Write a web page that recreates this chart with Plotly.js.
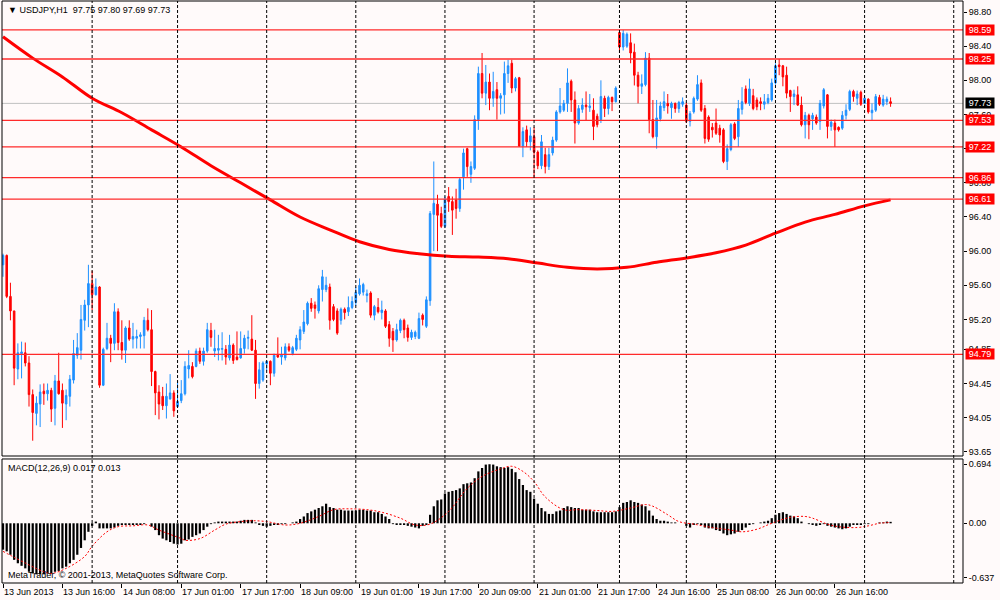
<!DOCTYPE html>
<html><head><meta charset="utf-8">
<script src="https://cdn.plot.ly/plotly-3.0.1.min.js"></script>
<style>html,body{margin:0;padding:0;background:#fffafa}#chart{width:1000px;height:600px}</style>
</head><body><div id="chart"></div>
<script>
// ---- USDJPY H1 candles (13 Jun 2013 00:00 -> 27 Jun 2013) ----
const openP = [
95.84,95.95,95.47,95.30,94.62,94.80,94.81,94.69,94.32,94.10,
94.21,94.36,94.33,94.37,94.16,94.48,94.37,94.21,94.30,94.49,
94.78,94.84,95.19,95.37,95.62,95.49,95.58,94.43,94.86,94.98,
94.92,95.29,94.93,94.84,95.10,94.97,94.98,95.00,95.01,95.19,
95.08,94.59,94.35,94.30,94.19,94.27,94.34,94.18,94.25,94.33,
94.62,94.65,94.65,94.83,94.71,94.83,95.07,94.83,94.84,94.85,
94.85,94.75,94.90,94.76,94.75,94.86,94.98,94.97,94.84,94.45,
94.49,94.68,94.71,94.57,94.79,94.76,94.75,94.88,94.80,94.85,
94.96,95.06,95.15,95.39,95.37,95.30,95.55,95.55,95.58,95.35,
95.30,95.19,95.32,95.29,95.34,95.40,95.50,95.52,95.48,95.51,
95.25,95.34,95.28,95.30,95.14,95.06,94.96,95.07,95.19,95.10,
94.99,95.00,94.98,95.25,95.12,95.42,96.43,96.55,96.44,96.29,
96.64,96.58,96.60,96.50,96.87,97.20,96.90,96.97,97.54,98.08,
97.85,97.98,97.79,97.89,97.79,97.83,98.08,98.20,97.91,98.03,
97.23,97.42,97.28,97.34,97.16,97.00,97.13,96.99,97.15,97.30,
97.63,97.65,97.73,97.99,97.77,97.50,97.66,97.71,97.68,97.65,
97.58,97.54,97.79,97.67,97.80,97.75,98.56,98.39,98.40,98.44,
98.33,98.06,97.93,97.95,98.26,97.54,97.34,97.55,97.68,97.73,
97.68,97.73,97.67,97.72,97.71,97.52,97.63,97.78,97.97,97.67,
97.57,97.45,97.50,97.44,97.42,97.05,97.19,97.49,97.34,97.66,
97.90,97.73,97.82,97.77,97.75,97.72,97.74,97.77,97.97,98.18,
98.17,98.06,97.88,97.81,97.83,97.71,97.48,97.59,97.55,97.57,
97.52,97.70,97.83,97.46,97.50,97.45,97.44,97.59,97.66,97.87,
97.79,97.86,97.73,97.78,97.62,97.65,97.80,97.71,97.75,97.75];
const highP = [
95.97,95.96,95.63,95.30,94.92,94.94,94.93,94.77,94.38,94.30,
94.44,94.45,94.45,94.40,94.55,94.81,94.45,94.38,94.55,94.96,
95.04,95.37,95.43,95.84,95.77,95.68,95.59,94.87,95.16,95.02,
95.39,95.33,95.19,95.12,95.19,95.16,95.08,95.05,95.23,95.33,
95.31,94.60,94.43,94.41,94.45,94.56,94.37,94.48,94.49,94.71,
94.84,94.70,94.86,94.87,94.87,95.16,95.16,95.08,95.02,95.05,
94.90,95.02,94.92,95.06,95.06,95.02,95.07,95.25,94.96,94.70,
94.71,94.71,94.72,94.80,94.99,94.88,94.92,94.92,94.89,95.02,
95.12,95.31,95.41,95.45,95.41,95.60,95.78,95.70,95.62,95.38,
95.33,95.34,95.34,95.47,95.47,95.58,95.68,95.63,95.55,95.53,
95.37,95.45,95.42,95.32,95.18,95.10,95.15,95.21,95.21,95.14,
95.08,95.07,95.28,95.27,95.47,96.47,97.05,96.66,96.52,96.64,
96.75,96.64,96.73,96.86,97.20,97.21,97.05,97.59,98.16,98.32,
98.18,98.08,98.10,97.98,97.85,98.22,98.24,98.24,98.04,98.04,
97.45,97.47,97.45,97.45,97.18,97.36,97.21,97.21,97.34,97.65,
97.91,97.77,98.14,98.01,97.87,97.71,97.79,97.87,97.84,97.79,
97.61,98.00,97.82,97.82,97.81,97.93,98.59,98.59,98.56,98.55,
98.43,98.10,98.07,98.33,98.32,97.77,97.77,97.75,97.87,97.84,
97.75,97.74,97.76,97.80,97.74,97.64,97.81,98.06,98.01,97.71,
97.59,97.50,97.67,97.48,97.44,97.25,97.50,97.51,97.77,97.92,
97.94,98.02,97.90,97.80,97.80,97.84,97.84,98.02,98.20,98.25,
98.18,98.16,97.89,97.89,97.93,97.81,97.63,97.61,97.62,97.60,
97.77,97.91,97.84,97.54,97.54,97.46,97.64,97.72,97.89,97.89,
97.88,97.88,97.82,97.79,97.73,97.84,97.83,97.83,97.81,97.80];
const lowP = [
95.70,95.45,95.19,94.43,94.50,94.51,94.65,94.18,93.78,93.96,
93.94,94.20,94.25,94.00,93.96,94.32,93.93,94.02,94.18,94.45,
94.74,94.73,95.07,95.11,95.31,95.48,94.40,94.42,94.84,94.70,
94.84,94.84,94.73,94.69,94.95,94.86,94.86,94.86,94.86,95.06,
94.42,94.08,94.03,94.14,94.04,94.26,94.06,94.17,94.22,94.31,
94.51,94.51,94.64,94.68,94.66,94.81,94.88,94.76,94.72,94.72,
94.67,94.72,94.68,94.72,94.74,94.80,94.85,94.83,94.27,94.39,
94.47,94.60,94.43,94.53,94.75,94.67,94.72,94.82,94.78,94.83,
94.85,95.03,95.13,95.29,95.21,95.27,95.41,95.52,95.08,95.18,
95.02,95.14,95.20,95.24,95.32,95.36,95.48,95.48,95.40,95.22,
95.19,95.27,95.20,95.10,94.88,94.82,94.94,95.04,94.98,94.94,
94.96,94.97,94.97,95.13,95.10,95.36,96.00,96.00,96.27,96.27,
96.46,96.19,96.38,96.46,96.72,96.87,96.80,96.95,97.42,97.79,
97.71,97.65,97.69,97.54,97.60,97.61,97.97,97.85,97.87,97.22,
97.10,97.22,97.18,96.87,96.96,96.96,96.91,96.95,97.12,97.28,
97.61,97.63,97.63,97.63,97.26,97.48,97.62,97.53,97.63,97.30,
97.45,97.50,97.57,97.60,97.64,97.74,98.32,98.35,98.38,98.20,
97.94,97.73,97.84,97.93,97.38,97.32,97.20,97.52,97.64,97.61,
97.55,97.62,97.62,97.69,97.50,97.46,97.61,97.76,97.63,97.26,
97.28,97.33,97.36,97.27,97.03,96.95,97.17,97.30,97.22,97.60,
97.72,97.70,97.65,97.65,97.65,97.66,97.72,97.75,97.95,98.06,
97.93,97.79,97.63,97.71,97.70,97.46,97.32,97.31,97.42,97.48,
97.42,97.67,97.32,97.41,97.22,97.40,97.42,97.54,97.64,97.75,
97.71,97.70,97.72,97.61,97.53,97.63,97.70,97.69,97.71,97.69];
const closeP = [
95.95,95.47,95.30,94.63,94.81,94.82,94.69,94.32,94.11,94.22,
94.35,94.33,94.37,94.15,94.48,94.33,94.22,94.31,94.50,94.80,
94.87,95.20,95.37,95.62,95.49,95.58,94.43,94.85,94.98,94.92,
95.29,94.93,94.84,95.10,94.97,95.00,95.00,95.02,95.19,95.08,
94.59,94.34,94.21,94.19,94.30,94.34,94.13,94.24,94.33,94.65,
94.66,94.53,94.83,94.71,94.83,95.08,94.99,94.86,94.86,94.86,
94.76,94.90,94.72,94.73,94.86,94.98,94.99,94.84,94.45,94.61,
94.69,94.71,94.57,94.78,94.76,94.79,94.88,94.84,94.87,94.98,
95.08,95.17,95.39,95.33,95.33,95.56,95.70,95.60,95.19,95.20,
95.04,95.32,95.28,95.34,95.41,95.52,95.60,95.61,95.50,95.25,
95.35,95.29,95.31,95.12,94.98,94.96,95.08,95.19,95.08,94.99,
95.05,95.05,95.21,95.20,95.43,96.44,96.56,96.42,96.29,96.61,
96.58,96.48,96.50,96.84,97.15,96.99,96.99,97.54,98.08,97.85,
97.98,97.79,97.87,97.79,97.82,98.08,98.17,97.91,98.02,97.23,
97.40,97.28,97.35,97.16,97.00,97.28,96.99,97.13,97.30,97.63,
97.70,97.73,97.97,97.77,97.50,97.67,97.71,97.69,97.70,97.46,
97.48,97.81,97.67,97.80,97.75,97.91,98.39,98.55,98.54,98.32,
98.06,97.93,97.96,98.26,97.54,97.34,97.56,97.70,97.75,97.70,
97.73,97.67,97.74,97.75,97.52,97.61,97.79,97.95,97.65,97.32,
97.31,97.42,97.38,97.36,97.05,97.20,97.48,97.32,97.67,97.75,
97.74,97.90,97.67,97.69,97.73,97.75,97.79,97.97,98.17,98.16,
98.04,97.85,97.81,97.84,97.71,97.48,97.59,97.48,97.59,97.50,
97.73,97.89,97.46,97.51,97.42,97.42,97.59,97.65,97.87,97.81,
97.84,97.72,97.79,97.63,97.65,97.81,97.72,97.78,97.78,97.73];

// ---- Moving average (sampled at bar index) ----
const maBar = [0,8,16,24,32,40,48,56,64,72,80,88,96,104,112,120,128,136,144,152,160,168,176,184,192,200,208,216,224,232,239];
const maVal = [98.51,98.26,98.04,97.79,97.62,97.42,97.22,97.00,96.80,96.60,96.40,96.25,96.11,96.02,95.97,95.94,95.93,95.91,95.86,95.81,95.79,95.81,95.87,95.92,95.98,96.07,96.21,96.34,96.43,96.53,96.60];

// ---- MACD(12,26,9) main (histogram) ----
const macdMain = [
-0.31,-0.33,-0.37,-0.43,-0.47,-0.50,-0.53,-0.57,-0.59,-0.60,
-0.60,-0.60,-0.59,-0.59,-0.57,-0.56,-0.53,-0.51,-0.47,-0.43,
-0.37,-0.29,-0.20,-0.10,-0.03,0.02,-0.06,-0.06,-0.06,-0.06,
-0.05,-0.03,-0.02,-0.02,-0.02,-0.02,-0.02,-0.02,-0.01,0.00,
-0.04,-0.08,-0.14,-0.18,-0.20,-0.22,-0.24,-0.25,-0.24,-0.20,
-0.19,-0.16,-0.14,-0.12,-0.08,-0.04,-0.01,0.01,0.02,0.02,
0.02,0.02,0.02,0.02,0.03,0.04,0.04,0.04,0.01,-0.02,
-0.03,-0.04,-0.03,-0.02,-0.02,-0.01,-0.01,0.00,0.01,0.02,
0.05,0.08,0.12,0.14,0.16,0.18,0.20,0.23,0.19,0.18,
0.16,0.16,0.15,0.15,0.15,0.15,0.16,0.16,0.15,0.15,
0.13,0.13,0.11,0.08,0.05,-0.01,-0.02,-0.02,-0.02,-0.03,
-0.04,-0.05,-0.06,-0.03,-0.02,0.10,0.20,0.27,0.28,0.35,
0.37,0.38,0.39,0.41,0.46,0.47,0.48,0.53,0.61,0.65,
0.69,0.694,0.69,0.67,0.66,0.65,0.66,0.64,0.60,0.52,
0.45,0.39,0.37,0.29,0.23,0.18,0.14,0.11,0.11,0.14,
0.15,0.18,0.20,0.19,0.18,0.18,0.16,0.16,0.16,0.14,
0.13,0.13,0.13,0.13,0.13,0.14,0.19,0.24,0.25,0.27,
0.25,0.24,0.22,0.20,0.15,0.09,0.05,0.03,0.03,0.02,
0.01,0.01,0.00,0.00,-0.03,-0.05,-0.02,-0.01,-0.02,-0.05,
-0.06,-0.06,-0.08,-0.09,-0.12,-0.14,-0.13,-0.12,-0.10,-0.08,
-0.05,-0.02,-0.01,0.00,0.01,0.02,0.03,0.06,0.10,0.12,
0.13,0.11,0.09,0.08,0.06,0.02,0.00,-0.01,-0.02,-0.03,
-0.02,-0.01,-0.03,-0.04,-0.05,-0.06,-0.07,-0.06,-0.04,-0.02,
-0.02,-0.02,-0.01,-0.01,0.00,0.00,0.01,0.01,0.02,0.017];

// ---- MACD signal (sampled at bar index) ----
const sigBar = [0,11,13,17,22,24,28,31,35,39,42,48,49,53,57,60,64,67,71,76,80,85,89,93,98,102,107,111,115,120,125,129,134,137,140,143,146,151,155,160,164,169,173,175,179,182,186,191,196,199,203,207,212,216,218,222,225,230,233,236,239];
const sigVal = [-0.33,-0.57,-0.59,-0.53,-0.39,-0.27,-0.10,-0.04,-0.03,-0.02,-0.08,-0.18,-0.20,-0.18,-0.08,-0.01,0.02,0.03,0.02,-0.02,0.00,0.08,0.16,0.17,0.16,0.13,0.06,-0.02,-0.01,0.14,0.41,0.55,0.64,0.67,0.61,0.49,0.31,0.16,0.16,0.15,0.14,0.18,0.22,0.20,0.10,0.02,-0.01,-0.05,-0.08,-0.10,-0.07,0.00,0.07,0.08,0.06,-0.01,-0.04,-0.05,-0.03,0.00,0.01];

// ---- Axis labels / levels ----
const timeTickBars = [0,16,32,48,64,80,96,112,128,144,160,176,192,208,224];
const timeTickLabels = ['13 Jun 2013','13 Jun 16:00','14 Jun 08:00','17 Jun 01:00','17 Jun 17:00','18 Jun 09:00','19 Jun 01:00','19 Jun 17:00','20 Jun 09:00','21 Jun 01:00','21 Jun 17:00','24 Jun 16:00','25 Jun 08:00','26 Jun 00:00','26 Jun 16:00'];
const daySeparatorBars = [24,47,71,95,119,143,166,184,208,232,256];
const priceTicks = [98.80,98.40,98.00,97.60,97.20,96.80,96.40,96.00,95.60,95.20,94.85,94.45,94.05,93.65];
const macdTicks = [0.694,0,-0.637];
const macdTickLabels = ['0.694','0.00','-0.637'];
const levelPrices = [98.59,98.25,97.53,97.22,96.86,96.61,94.79];
const lastPrice = 97.73;
const headerText = 'USDJPY,H1\u00a0\u00a097.75 97.80 97.69 97.73';
const macdText = 'MACD(12,26,9) 0.017 0.013';
const copyrightText = 'MetaTrader, \u00a9 2001-2013, MetaQuotes Software Corp.';

const bars = openP.map((_, i) => i);
const FONT = 'Liberation Sans, Arial, sans-serif';
const mainDom = [0.2182, 1];
const macdDom = [0, 0.2131];

const traces = [
  {type:'candlestick', x:bars, open:openP, high:highP, low:lowP, close:closeP,
   xaxis:'x', yaxis:'y', whiskerwidth:0, hoverinfo:'skip', showlegend:false,
   increasing:{line:{color:'#1e90ff', width:1}, fillcolor:'#1e90ff'},
   decreasing:{line:{color:'#ff0000', width:1}, fillcolor:'#ff0000'}},
  {type:'scatter', mode:'lines', x:maBar, y:maVal, xaxis:'x', yaxis:'y',
   line:{color:'#ff0000', width:3, shape:'spline'}, hoverinfo:'skip', showlegend:false},
  {type:'bar', x:bars, y:macdMain, xaxis:'x', yaxis:'y2',
   marker:{color:'#000000', line:{width:0}}, hoverinfo:'skip', showlegend:false},
  {type:'scatter', mode:'lines', x:sigBar, y:sigVal, xaxis:'x', yaxis:'y2',
   line:{color:'#ff0000', width:1, dash:'2px,2px', shape:'spline'}, hoverinfo:'skip', showlegend:false}
];

const shapes = [];
shapes.push({type:'line', xref:'paper', x0:0, x1:1, yref:'y', y0:lastPrice, y1:lastPrice,
  line:{color:'#c0c0c0', width:1}, layer:'below'});
levelPrices.forEach(v => shapes.push({type:'line', xref:'paper', x0:0, x1:1, yref:'y', y0:v, y1:v,
  line:{color:'#ff2a2a', width:1.3}}));
daySeparatorBars.forEach(b => shapes.push({type:'line', xref:'x', x0:b, x1:b, yref:'paper', y0:0, y1:1,
  line:{color:'#000000', width:1, dash:'3px,2px'}}));
shapes.push({type:'rect', xref:'paper', x0:0, x1:1, yref:'paper', y0:mainDom[0], y1:mainDom[1],
  line:{color:'#000000', width:1}, fillcolor:'rgba(0,0,0,0)'});
shapes.push({type:'rect', xref:'paper', x0:0, x1:1, yref:'paper', y0:macdDom[0], y1:macdDom[1],
  line:{color:'#000000', width:1}, fillcolor:'rgba(0,0,0,0)'});

const annotations = [];
levelPrices.forEach(v => annotations.push({xref:'paper', x:1, xanchor:'left', xshift:2,
  yref:'y', y:v, yanchor:'middle', text:v.toFixed(2), showarrow:false,
  bgcolor:'#ff0000', font:{family:FONT, size:9, color:'#ffffff'}, borderpad:0, width:28, height:10}));
annotations.push({xref:'paper', x:1, xanchor:'left', xshift:2, yref:'y', y:lastPrice, yanchor:'middle',
  text:lastPrice.toFixed(2), showarrow:false, bgcolor:'#000000',
  font:{family:FONT, size:9, color:'#ffffff'}, borderpad:0, width:28, height:10});
annotations.push({xref:'paper', x:0, xanchor:'left', xshift:4, yref:'paper', y:1, yanchor:'top', yshift:-2,
  text:'\u25BC ' + headerText, showarrow:false, font:{family:FONT, size:9, color:'#000000'}});
annotations.push({xref:'paper', x:0, xanchor:'left', xshift:4, yref:'paper', y:macdDom[1], yanchor:'top', yshift:-2,
  text:macdText, showarrow:false, font:{family:FONT, size:9, color:'#000000'}});
annotations.push({xref:'paper', x:0, xanchor:'left', xshift:4, yref:'paper', y:macdDom[0], yanchor:'bottom', yshift:1,
  text:copyrightText, showarrow:false, font:{family:FONT, size:9, color:'#000000'}});
// time-axis labels, left-aligned at their tick (MetaTrader style)
timeTickBars.forEach((b, k) => annotations.push({xref:'x', x:b, xanchor:'left', xshift:-1,
  yref:'paper', y:0, yanchor:'top', yshift:-2, text:timeTickLabels[k], showarrow:false,
  font:{family:FONT, size:9, color:'#000000'}}));

const layout = {
  width:1000, height:600,
  margin:{l:2, r:37, t:1, b:17},
  paper_bgcolor:'#fffafa', plot_bgcolor:'#fffafa',
  font:{family:FONT, size:9, color:'#000000'},
  showlegend:false, boxgap:0.4, bargap:0.4, dragmode:false,
  xaxis:{domain:[0,1], range:[-0.27, 258.5], anchor:'y2', showgrid:false, zeroline:false,
    tickmode:'array', tickvals:timeTickBars, showticklabels:false,
    ticks:'outside', ticklen:4, tickcolor:'#000', rangeslider:{visible:false}, fixedrange:true},
  yaxis:{domain:mainDom, range:[93.601, 98.929], side:'right', anchor:'x', showgrid:false, zeroline:false,
    tickmode:'array', tickvals:priceTicks, ticktext:priceTicks.map(v => v.toFixed(2)),
    ticks:'outside', ticklen:3, tickcolor:'#000', tickfont:{family:FONT, size:9, color:'#000'}, fixedrange:true},
  yaxis2:{domain:macdDom, range:[-0.702, 0.756], side:'right', anchor:'x', showgrid:false, zeroline:false,
    tickmode:'array', tickvals:macdTicks, ticktext:macdTickLabels,
    ticks:'outside', ticklen:3, tickcolor:'#000', tickfont:{family:FONT, size:9, color:'#000'}, fixedrange:true},
  shapes:shapes, annotations:annotations
};

Plotly.newPlot('chart', traces, layout, {staticPlot:true, displayModeBar:false});
</script></body></html>
